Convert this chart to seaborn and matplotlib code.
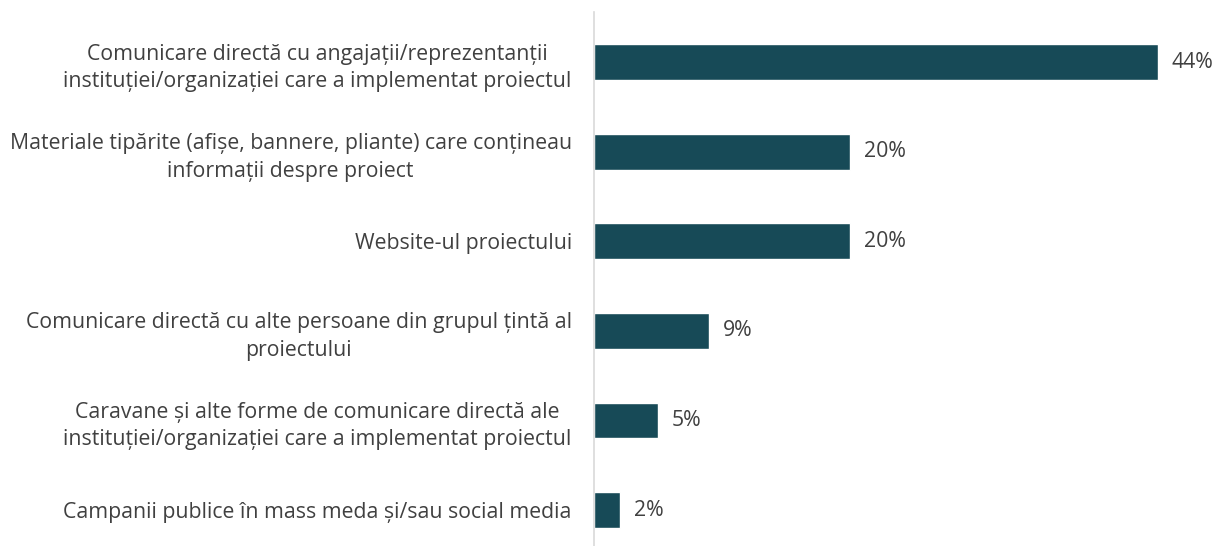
import matplotlib
matplotlib.use("Agg")
import matplotlib.pyplot as plt
import seaborn as sns
import pandas as pd

categories = [
    "Comunicare directă cu angajații/reprezentanții\ninstituției/organizației care a implementat proiectul",
    "Materiale tipărite (afișe, bannere, pliante) care conțineau\ninformații despre proiect",
    "Website-ul proiectului",
    "Comunicare directă cu alte persoane din grupul țintă al\nproiectului",
    "Caravane și alte forme de comunicare directă ale\ninstituției/organizației care a implementat proiectul",
    "Campanii publice în mass meda și/sau social media",
]
values = [44, 20, 20, 9, 5, 2]

BAR_COLOR = "#174a57"
TEXT_COLOR = "#404040"

sns.set_theme(style="white")
plt.rcParams["font.family"] = ["Open Sans", "DejaVu Sans"]

df = pd.DataFrame({"canal": categories, "procent": values})

fig = plt.figure(figsize=(12.17, 5.46), dpi=100)
ax = fig.add_axes([594 / 1217, 0.0, 1 - 594 / 1217, 1 - 12 / 546])

sns.barplot(data=df, x="procent", y="canal", color=BAR_COLOR, width=0.4,
            saturation=1, ax=ax)

ax.set_xlim(0, 48.6)
ax.set_ylim(5.4, -0.56)

for container in ax.containers:
    ax.bar_label(container, labels=[f"{v}%" for v in values], padding=10,
                 fontsize=15.3, color=TEXT_COLOR)

ax.set_xlabel("")
ax.set_ylabel("")
ax.set_xticks([])
ax.tick_params(axis="y", length=0, pad=16, labelsize=15.3, labelcolor=TEXT_COLOR)
for lbl in ax.get_yticklabels():
    lbl.set_multialignment("center")
    lbl.set_linespacing(1.4)

for side in ["top", "right", "bottom"]:
    ax.spines[side].set_visible(False)
ax.spines["left"].set_color("#d9d9d9")
ax.spines["left"].set_linewidth(1.2)

fig.savefig("out.png", dpi=100, facecolor="white")
